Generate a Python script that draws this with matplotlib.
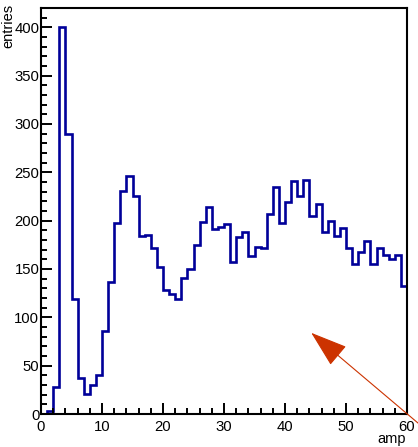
import matplotlib
matplotlib.use('Agg')
import matplotlib.pyplot as plt
import numpy as np
from matplotlib.ticker import MultipleLocator

plt.rcParams['font.family'] = ['Liberation Sans', 'DejaVu Sans']

# histogram contents, 60 bins of width 1 from 0 to 60
bin_edges = list(range(0, 61))
counts = [0, 3, 28, 400, 290, 119, 37, 21, 30, 40,
          86, 137, 198, 231, 246, 225, 184, 185, 172, 152,
          128, 124, 119, 141, 150, 175, 199, 214, 191, 193,
          197, 157, 183, 188, 163, 173, 172, 207, 235, 198,
          219, 241, 225, 242, 205, 217, 188, 200, 184, 192,
          172, 155, 168, 179, 155, 172, 164, 160, 164, 132]

# arrow (tip, tail) in data coords
arrow_tip = (44.3, 84)
arrow_tail = (66.8, -36)

fig = plt.figure(figsize=(4.18, 4.47), dpi=100)
ax = fig.add_axes([41 / 418, 1 - 414 / 447, 366 / 418, 406 / 447])

ax.stairs(counts, bin_edges, color='#000099', linewidth=1.9, baseline=None)

ax.set_xlim(0, 60)
ax.set_ylim(0, 420)

# ROOT-like axes
for s in ax.spines.values():
    s.set_linewidth(1.5)
    s.set_color('black')
ax.xaxis.set_major_locator(MultipleLocator(10))
ax.xaxis.set_minor_locator(MultipleLocator(2))
ax.yaxis.set_major_locator(MultipleLocator(50))
ax.yaxis.set_minor_locator(MultipleLocator(10))
ax.tick_params(which='both', direction='in', top=False, right=False,
               width=1.4, labelsize=10.7)
ax.tick_params(which='major', length=8)
ax.tick_params(which='minor', length=4)
ax.tick_params(axis='x', pad=4.5)
ax.tick_params(axis='y', pad=1.2)

# arrow
ax.annotate('', xy=arrow_tip, xytext=arrow_tail, xycoords='data',
            annotation_clip=False,
            arrowprops=dict(arrowstyle='-|>,head_length=23.7,head_width=7.9',
                            mutation_scale=1, color='#cc3300', lw=0.8,
                            shrinkA=0, shrinkB=0, clip_on=False))

# axis titles
fig.text(8 / 418, 1 - 4 / 447, 'entries', rotation=90, ha='center', va='top', fontsize=10.5)
fig.text(406 / 418, 1 - 443 / 447, 'amp', ha='right', va='baseline', fontsize=10.5)

fig.savefig('out.png', dpi=100)
